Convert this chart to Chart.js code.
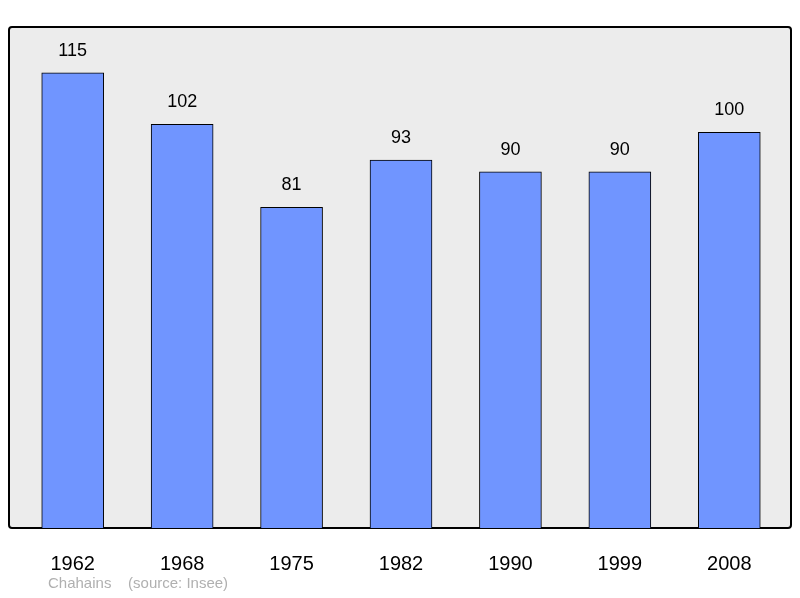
<!DOCTYPE html>
<html>
<head>
<meta charset="utf-8">
<script src="https://cdn.jsdelivr.net/npm/chart.js@4/dist/chart.umd.min.js"></script>
<style>
  body { margin: 0; background: #fff; }
  #wrap { position: relative; width: 800px; height: 598px; }
  #note { position: absolute; left: 48px; top: 574px; font: 15px "Liberation Sans", Arial, sans-serif; color: #b0b0b0; white-space: pre; }
</style>
</head>
<body>
<div id="wrap">
  <canvas id="popChart" width="800" height="598"></canvas>
  <div id="note">Chahains    (source: Insee)</div>
</div>
<script>
var years = ['1962', '1968', '1975', '1982', '1990', '1999', '2008']
var population = [115, 102, 81, 93, 90, 90, 100]

// fond gris avec bordure
var boxPlugin = {
  id: 'box',
  beforeDraw: function(chart) {
    var ctx = chart.ctx
    ctx.save()
    ctx.fillStyle = '#ececec'
    ctx.strokeStyle = '#000'
    ctx.lineWidth = 2
    ctx.beginPath()
    ctx.roundRect(9, 27, 782, 501, 3)
    ctx.fill()
    ctx.stroke()
    ctx.restore()
  }
}

// valeurs au-dessus des barres
var labelPlugin = {
  id: 'labels',
  afterDatasetsDraw: function(chart) {
    var ctx = chart.ctx
    ctx.save()
    ctx.font = '18px "Liberation Sans", Arial, sans-serif'
    ctx.fillStyle = '#000'
    ctx.textAlign = 'center'
    ctx.textBaseline = 'middle'
    chart.getDatasetMeta(0).data.forEach(function(bar, i) {
      ctx.fillText(population[i], bar.x, bar.y - 22)
    })
    ctx.restore()
  }
}

new Chart(document.getElementById('popChart'), {
  type: 'bar',
  data: {
    labels: years,
    datasets: [{
      data: population,
      backgroundColor: '#7095ff',
      borderColor: '#000',
      borderWidth: 1,
      barThickness: 62
    }]
  },
  options: {
    responsive: false,
    animation: false,
    layout: { padding: { top: 27, bottom: 28, left: 18, right: 16 } },
    plugins: { legend: { display: false }, tooltip: { enabled: false } },
    scales: {
      y: { display: false, min: 0, max: 126.6 },
      x: {
        offset: true,
        grid: { display: false },
        border: { display: false },
        ticks: { color: '#000', padding: 16, font: { size: 20, family: '"Liberation Sans", Arial, sans-serif' } },
        afterFit: function(scale) { scale.height = 42 }
      }
    }
  },
  plugins: [boxPlugin, labelPlugin]
})
</script>
</body>
</html>
